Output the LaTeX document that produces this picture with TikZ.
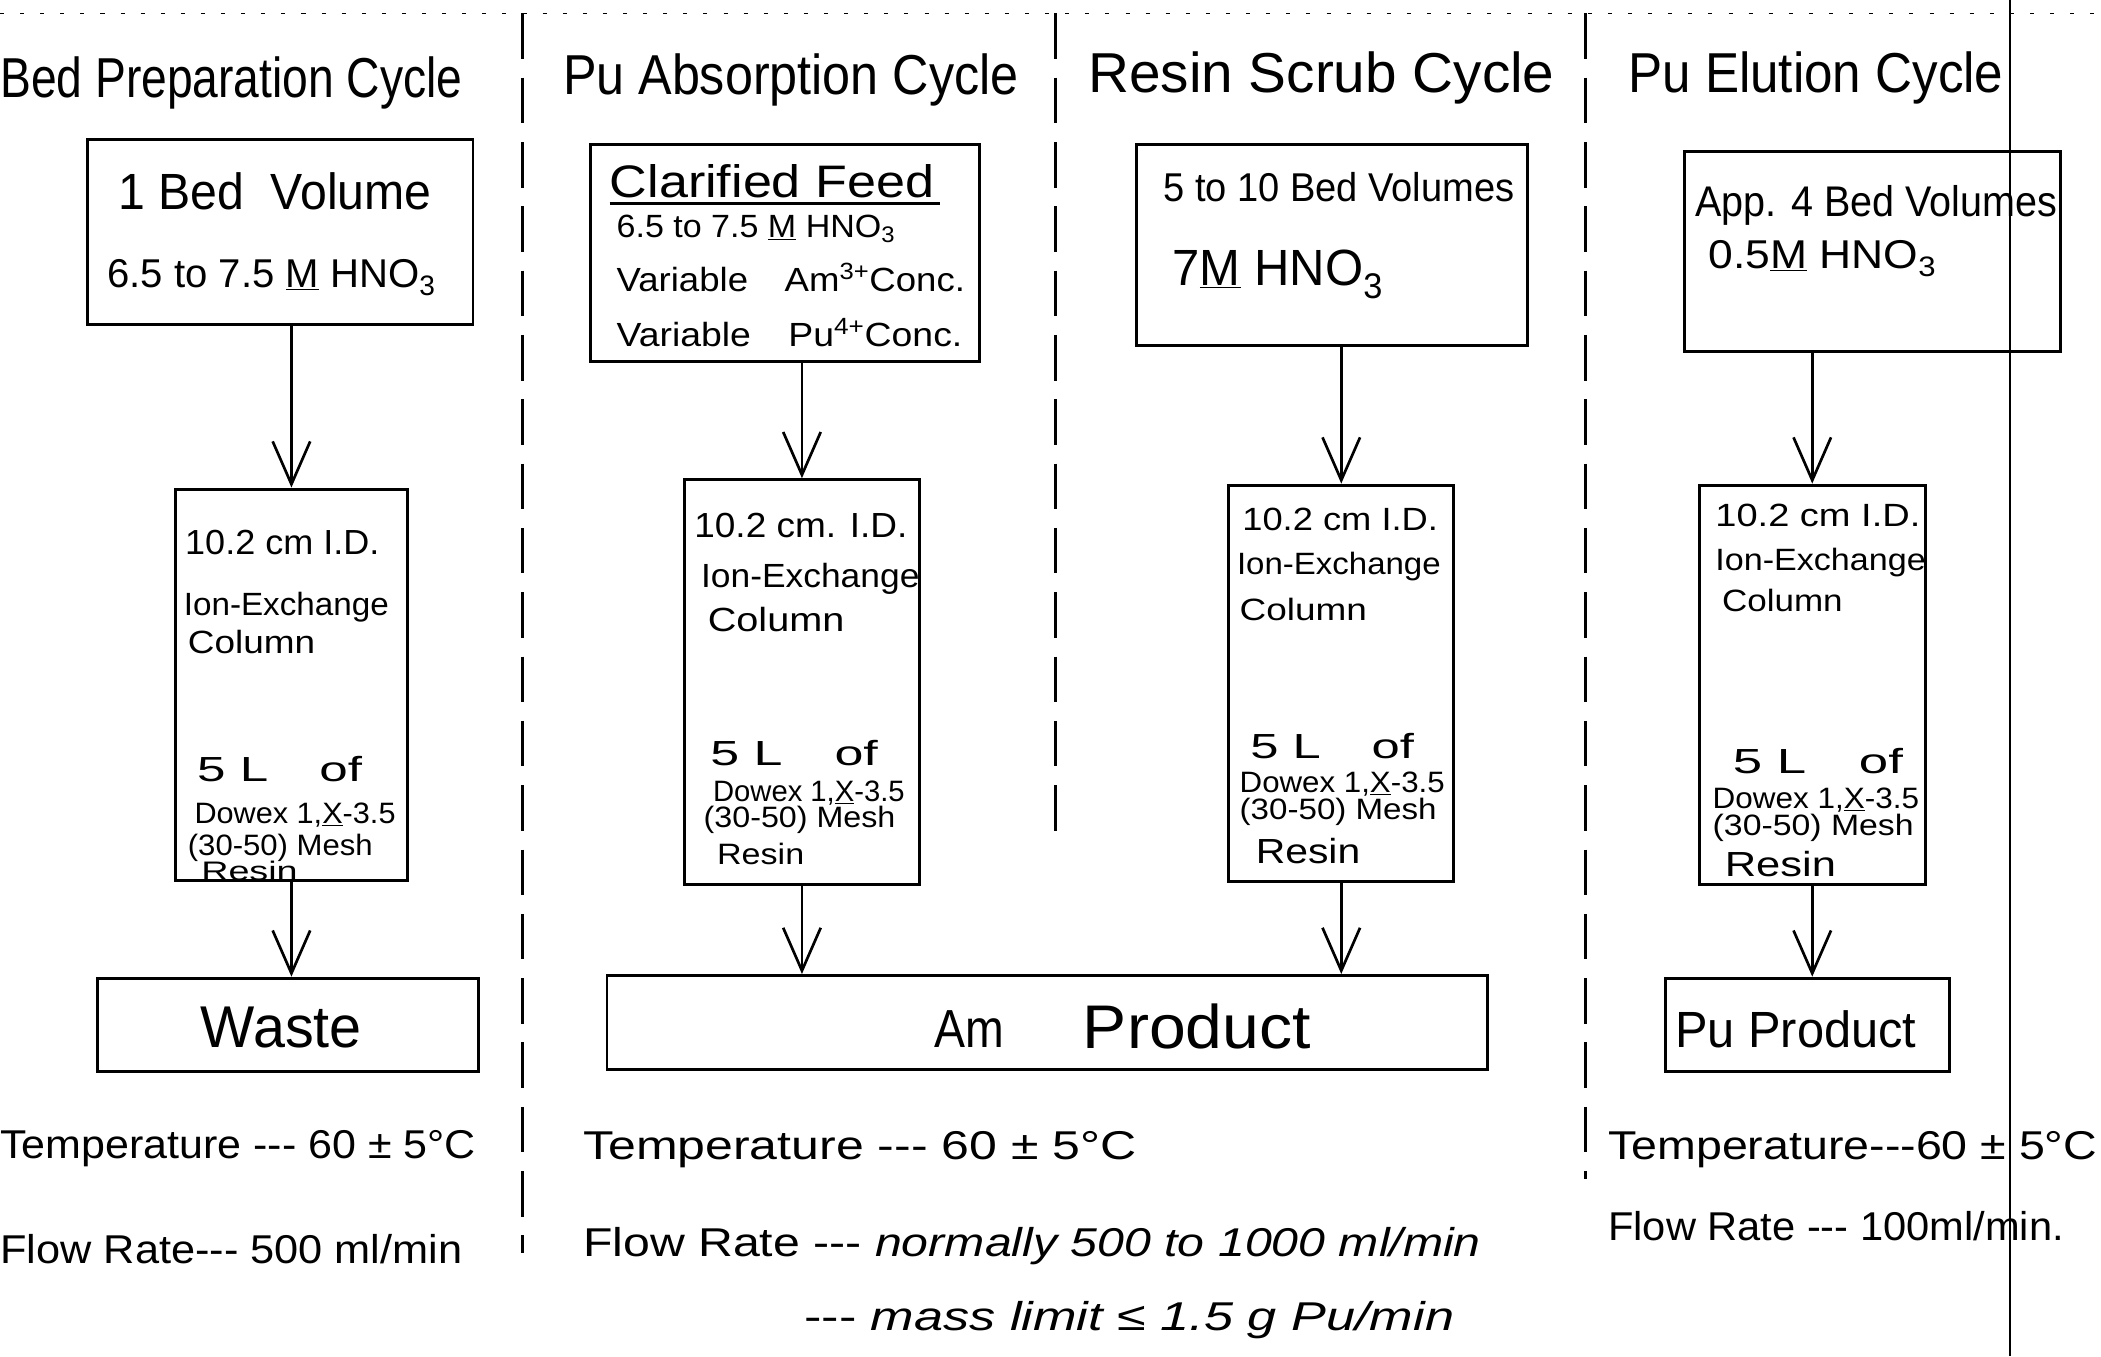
\documentclass[tikz,border=0pt]{standalone}
\usepackage{fontspec}
\setmainfont{Liberation Sans}
\usetikzlibrary{arrows.meta}
\newcommand\hw[2]{\resizebox{#1}{\height}{#2}}
\newcommand\fs[1]{\fontsize{#1pt}{#1pt}\selectfont}
\newcommand\ddd{-{}-{}-}
\begin{document}
\begin{tikzpicture}[x=1pt,y=-1pt,
  box/.style={draw, line width=2.2pt, inner sep=0pt},
  txt/.style={anchor=west, inner sep=0pt},
  ctxt/.style={inner sep=0pt},
  arr/.style={line width=2pt, -{Straight Barb[length=32pt,width=28pt,line width=2pt]}},
  divider/.style={line width=2.2pt, dash pattern=on 34pt off 14pt},
  ul/.style={line width=2.6pt}]
\useasboundingbox (0,0) rectangle (1568,1012);
% page edges
\draw[line width=0.8pt, dash pattern=on 3pt off 12pt] (0,10) -- (1568,10);
\draw[line width=1.2pt] (1500,0) -- (1500,1012);
% dividers
\draw[divider] (390,10) -- (390,935);
\draw[divider] (788,10) -- (788,630);
\draw[divider] (1183,10) -- (1183,880);
% titles
\node[txt] (tA) at (0,62) {\hw{345pt}{\fs{42}Bed Preparation Cycle}};
\node[txt] (tB) at (420,60) {\hw{340pt}{\fs{42}Pu Absorption Cycle}};
\node[txt] (tC) at (812,58) {\hw{348pt}{\fs{42}Resin Scrub Cycle}};
\node[txt] (tD) at (1215,58) {\hw{280pt}{\fs{42}Pu Elution Cycle}};
% ---------- Column A ----------
\node[box, minimum width=288pt, minimum height=138pt] (a1) at (209,173) {};
\node[txt] (a1t1) at (88,143) {\hw{234pt}{\fs{38}1 Bed\ \ Volume}};
\node[txt] (a1t2) at (80,207) {\hw{245pt}{\fs{30}6.5 to 7.5 \underline{M} HNO\textsubscript{3}}};
\node[box, minimum width=173pt, minimum height=292pt] (ca) at (217.5,511) {};
\node[txt] (ca1) at (138,405) {\hw{145pt}{\fs{26}10.2 cm I.D.}};
\node[txt] (ca2) at (137,453) {\hw{153pt}{\fs{24}Ion-Exchange}};
\node[txt] (ca3) at (140,479) {\hw{95pt}{\fs{24}Column}};
\node[txt] (ca4) at (147,574) {\hw{123pt}{\fs{26}5 L\quad of}};
\node[txt] (ca5) at (145,608) {\hw{150pt}{\fs{22}Dowex 1,\underline{X}-3.5}};
\node[txt] (ca6) at (140,633) {\hw{138pt}{\fs{22}(30-50) Mesh}};
\node[txt] (ca7) at (150,650) {\hw{72pt}{\fs{20}Resin}};
\node[box, minimum width=284pt, minimum height=70pt] (waste) at (215,765) {};
\node[ctxt] (wt) at (210,767) {\hw{120pt}{\fs{44}Waste}};
\node[txt] (tempA) at (0,857) {\hw{355pt}{\fs{30}Temperature \ddd{} 60 ± 5°C}};
\node[txt] (flowA) at (0,932) {\hw{345pt}{\fs{30}Flow Rate\ddd{} 500 ml/min}};
% ---------- Column B ----------
\node[box, minimum width=290pt, minimum height=162pt] (fb) at (586,189) {};
\node[txt] (fb1) at (455,135) {\hw{242pt}{\fs{34}Clarified Feed}};
\draw[ul] ([yshift=-4pt]fb1.south west) -- ([yshift=-4pt,xshift=4pt]fb1.south east);
\node[txt] (fb2) at (460,171) {\hw{208pt}{\fs{24}6.5 to 7.5 \underline{M} HNO\textsubscript{3}}};
\node[txt] (fb3) at (460,207) {\hw{260pt}{\fs{25}Variable\quad Am\textsuperscript{3+}Conc.}};
\node[txt] (fb4) at (460,248) {\hw{258pt}{\fs{25}Variable\quad Pu\textsuperscript{4+}Conc.}};
\node[box, minimum width=175pt, minimum height=302pt] (cb) at (598.5,509) {};
\node[txt] (cb1) at (518,392) {\hw{159pt}{\fs{26}10.2 cm. I.D.}};
\node[txt] (cb2) at (523,432) {\hw{163pt}{\fs{25}Ion-Exchange}};
\node[txt] (cb3) at (528,462) {\hw{102pt}{\fs{25}Column}};
\node[txt] (cb4) at (530,562) {\hw{125pt}{\fs{26}5 L\quad of}};
\node[txt] (cb5) at (532,592) {\hw{143pt}{\fs{22}Dowex 1,\underline{X}-3.5}};
\node[txt] (cb6) at (525,612) {\hw{143pt}{\fs{22}(30-50) Mesh}};
\node[txt] (cb7) at (535,637) {\hw{65pt}{\fs{22}Resin}};
\node[box, minimum width=657pt, minimum height=70pt] (amp) at (781.5,763) {};
\node[txt] (ampt1) at (697,768) {\hw{52pt}{\fs{40}Am}};
\node[txt] (ampt2) at (808,766) {\hw{170pt}{\fs{46}Product}};
\node[txt] (tempB) at (435,858) {\hw{413pt}{\fs{30}Temperature \ddd{} 60 ± 5°C}};
\node[txt] (flowB) at (435,930) {\hw{670pt}{\fs{30}Flow Rate \ddd{} \textit{normally 500 to 1000 ml/min}}};
\node[txt] (flowB2) at (600,985) {\hw{485pt}{\fs{30}\ddd{} \textit{mass limit ≤ 1.5 g Pu/min}}};
% ---------- Column C ----------
\node[box, minimum width=292pt, minimum height=150pt] (c1) at (994,183) {};
\node[txt] (c1t1) at (868,140) {\hw{262pt}{\fs{30}5 to 10 Bed Volumes}};
\node[txt] (c1t2) at (875,205) {\hw{157pt}{\fs{38}7\underline{M} HNO\textsubscript{3}}};
\node[box, minimum width=168pt, minimum height=296pt] (cc) at (1001,510) {};
\node[txt] (cc1) at (927,388) {\hw{146pt}{\fs{24}10.2 cm I.D.}};
\node[txt] (cc2) at (923,423) {\hw{152pt}{\fs{23}Ion-Exchange}};
\node[txt] (cc3) at (925,455) {\hw{95pt}{\fs{23}Column}};
\node[txt] (cc4) at (933,557) {\hw{122pt}{\fs{26}5 L\quad of}};
\node[txt] (cc5) at (925,585) {\hw{153pt}{\fs{22}Dowex 1,\underline{X}-3.5}};
\node[txt] (cc6) at (925,606) {\hw{147pt}{\fs{22}(30-50) Mesh}};
\node[txt] (cc7) at (937,635) {\hw{78pt}{\fs{26}Resin}};
% ---------- Column D ----------
\node[box, minimum width=281pt, minimum height=149pt] (d1) at (1397.5,187.5) {};
\node[txt] (d1t1) at (1265,153) {\hw{270pt}{\fs{32}App. 4 Bed Volumes}};
\node[txt] (d1t2) at (1275,193) {\hw{170pt}{\fs{30}0.5\underline{M} HNO\textsubscript{3}}};
\node[box, minimum width=169pt, minimum height=298pt] (cd) at (1352.5,511) {};
\node[txt] (cd1) at (1280,385) {\hw{153pt}{\fs{24}10.2 cm I.D.}};
\node[txt] (cd2) at (1280,420) {\hw{157pt}{\fs{23}Ion-Exchange}};
\node[txt] (cd3) at (1285,448) {\hw{90pt}{\fs{23}Column}};
\node[txt] (cd4) at (1293,568) {\hw{127pt}{\fs{26}5 L\quad of}};
\node[txt] (cd5) at (1278,597) {\hw{154pt}{\fs{22}Dowex 1,\underline{X}-3.5}};
\node[txt] (cd6) at (1278,618) {\hw{150pt}{\fs{22}(30-50) Mesh}};
\node[txt] (cd7) at (1287,645) {\hw{83pt}{\fs{26}Resin}};
\node[box, minimum width=212pt, minimum height=70pt] (pup) at (1349,765) {};
\node[txt] (pupt) at (1250,768) {\hw{180pt}{\fs{38}Pu Product}};
\node[txt] (tempD) at (1200,858) {\hw{365pt}{\fs{30}Temperature\ddd{}60 ± 5°C}};
\node[txt] (flowD) at (1200,915) {\hw{340pt}{\fs{30}Flow Rate \ddd{} 100ml/min.}};
% ---------- arrows ----------
\draw[arr] (ca.north |- a1.south) -- (ca.north);
\draw[arr] (ca.south) -- (ca.south |- waste.north);
\draw[arr] (cb.north |- fb.south) -- (cb.north);
\draw[arr] (cb.south) -- (cb.south |- amp.north);
\draw[arr] (cc.north |- c1.south) -- (cc.north);
\draw[arr] (cc.south) -- (cc.south |- amp.north);
\draw[arr] (cd.north |- d1.south) -- (cd.north);
\draw[arr] (cd.south) -- (cd.south |- pup.north);
\end{tikzpicture}
\end{document}
